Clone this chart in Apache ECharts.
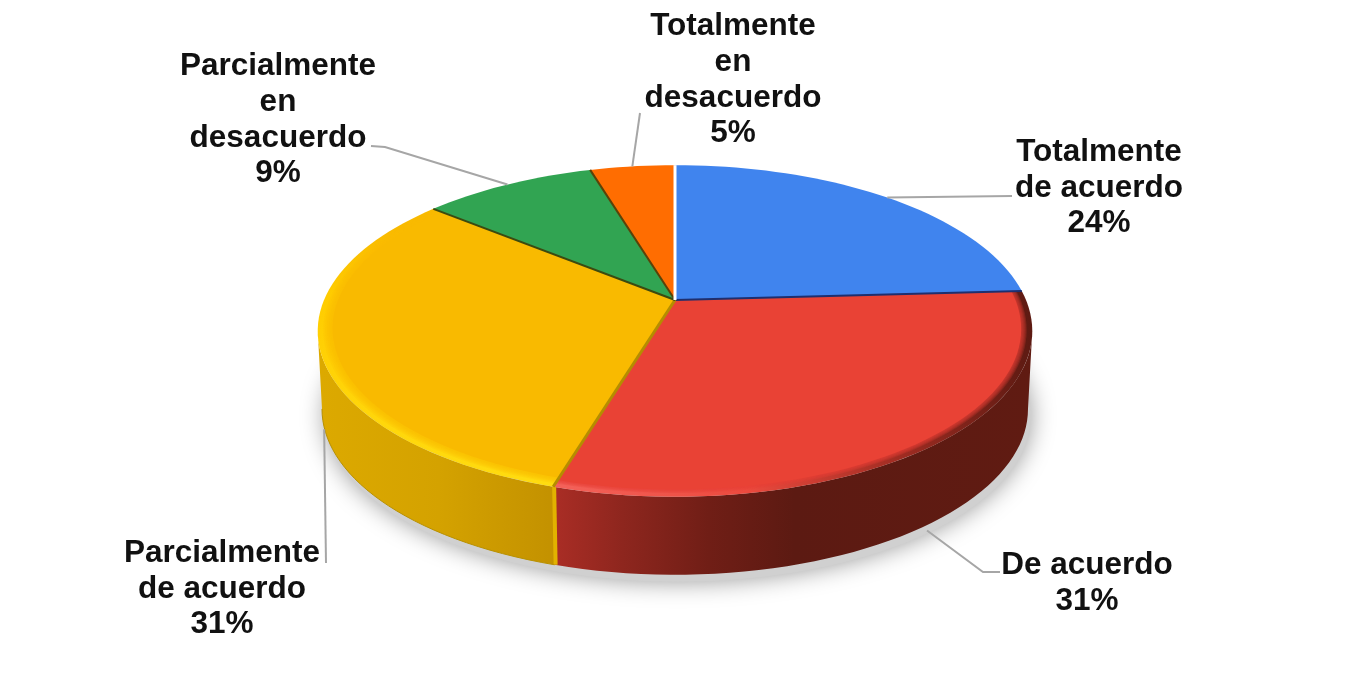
<!DOCTYPE html>
<html>
<head>
    <meta charset="UTF-8"/>
    <title>Grado de acuerdo</title>
    <script type="text/javascript" src="https://cdn.jsdelivr.net/npm/echarts@6/dist/echarts.min.js"></script>
    <style>
        html, body {margin: 0; padding: 0; background: #fff;}
        #main {width: 1351px; height: 676px; filter: blur(0.5px);}
    </style>
</head>
<body>
<div id="main"></div>
<script type="text/javascript">
    // datos (la etiqueta muestra el valor redondeado)
    var categories = [
        'Totalmente\nde acuerdo',
        'De acuerdo',
        'Parcialmente\nde acuerdo',
        'Parcialmente\nen\ndesacuerdo',
        'Totalmente\nen\ndesacuerdo'
    ]
    var values = [24.1, 30.5, 31.4, 9.4, 4.6]

    var faceColors = ['#4084ee', '#e94235', '#f9ba00', '#31a452', '#ff6d01']
    var edgeColors = ['#1f2f6e', '#b58d00', '#3b4a10', '#5a4208', '#ffffff']
    var edgeWidths = [2, 3, 2, 2, 3]
    var rimSteps = [0, 0.003, 0.005, 0, 0]
    var labelPos = [[1099, 188], [1087, 583], [222, 589], [278, 120], [733, 80]]
    var leaderEnds = [
        [[1012, 196]],
        [[983, 572], [1000, 572]],
        [[326, 563]],
        [[385, 147], [371, 146]],
        [[640, 113]]
    ]

    // perspectiva del plato: apice, radios y profundidad
    var CX = 675, CY = 300, RX = 351, RY = 160, K = 0.1867
    var DEPTH = 78, BOTTOM_X = 0.988, STEP = 2
    // angulos donde el borde del plato es tangente en vertical
    var TANGENT_R = Math.acos(-K) * 180 / Math.PI
    var TANGENT_L = 360 - TANGENT_R

    var total = values.reduce(function (a, b) { return a + b }, 0)
    var angles = [0]
    values.forEach(function (v, i) {
        angles.push(angles[i] + v / total * 360)
    })

    function project(deg, r) {
        var t = deg * Math.PI / 180
        var s = 1 / (1 + K * r * Math.cos(t))
        return [CX + RX * r * Math.sin(t) * s, CY - RY * r * Math.cos(t) * s]
    }

    function projectBottom(deg) {
        var p = project(deg, 1)
        return [CX + (p[0] - CX) * BOTTOM_X, p[1] + DEPTH]
    }

    function arc(a0, a1, fn) {
        var pts = []
        var n = Math.max(2, Math.ceil((a1 - a0) / STEP))
        for (var i = 0; i <= n; i++) {
            pts.push(fn(a0 + (a1 - a0) * i / n))
        }
        return pts
    }

    function grad(x0, y0, x1, y1, stops) {
        return new echarts.graphic.LinearGradient(x0, y0, x1, y1, stops.map(function (s) {
            return {offset: s[0], color: s[1]}
        }), true)
    }

    var wallFill = [
        null,
        grad(556, 0, 1033, 0, [[0, '#a92d25'], [0.14, '#8e261e'], [0.32, '#701e16'], [0.5, '#5c1a12'], [1, '#601b12']]),
        grad(322, 0, 556, 0, [[0, '#dca900'], [0.5, '#d4a200'], [1, '#c39100']]),
        null,
        null
    ]
    var rimFill = [
        null,
        grad(556, 0, 1033, 0, [[0, '#f4625a'], [0.4, '#ec4a3e'], [0.72, '#a02c22'], [1, '#5c1a12']]),
        grad(0, 230, 0, 490, [[0, '#f9ba00'], [0.25, '#ffcc00'], [1, '#ffdc10']]),
        null,
        null
    ]

    function renderShadow() {
        var ring = arc(0, 360, function (a) {
            var p = projectBottom(a)
            return [p[0] + 3, p[1] + 7]
        })
        return {
            type: 'polygon',
            shape: {points: ring},
            style: {
                fill: '#d0d0d0',
                shadowBlur: 24,
                shadowColor: 'rgba(0,0,0,0.4)'
            }
        }
    }

    function renderWall(params) {
        var i = params.dataIndex
        if (!wallFill[i]) {
            return null
        }
        var a0 = Math.max(angles[i], TANGENT_R), a1 = Math.min(angles[i + 1], TANGENT_L)
        var top = arc(a0, a1, function (a) { return project(a, 1) })
        var bottom = arc(a0, a1, projectBottom).reverse()
        var children = [{
            type: 'polygon',
            shape: {points: top.concat(bottom)},
            style: {fill: wallFill[i]}
        }]
        if (i === 2) {
            // el corte del sector amarillo queda a la vista
            var a = project(angles[i], 1), b = projectBottom(angles[i])
            children.push({
                type: 'line',
                shape: {x1: a[0] + 1, y1: a[1], x2: b[0] + 1, y2: b[1]},
                style: {stroke: '#e2b200', lineWidth: 4}
            })
            children.push({
                type: 'polyline',
                shape: {points: arc(a0, a1, projectBottom)},
                style: {fill: 'none', stroke: '#b89000', lineWidth: 1}
            })
        }
        return {type: 'group', children: children}
    }

    function sector(i, r) {
        var pts = arc(angles[i], angles[i + 1], function (a) { return project(a, r) })
        pts.unshift([CX, CY])
        return pts
    }

    function renderFace(params) {
        var i = params.dataIndex
        var children = []
        if (rimFill[i]) {
            children.push({type: 'polygon', shape: {points: sector(i, 1)}, style: {fill: rimFill[i]}})
            for (var k = 0; k < 6; k++) {
                children.push({
                    type: 'polygon',
                    shape: {points: sector(i, 0.985 - k * rimSteps[i])},
                    style: {fill: faceColors[i], opacity: k === 5 ? 1 : 0.22}
                })
            }
        } else {
            children.push({type: 'polygon', shape: {points: sector(i, 1)}, style: {fill: faceColors[i]}})
        }
        return {type: 'group', children: children}
    }

    function renderEdge(params) {
        var i = params.dataIndex
        var end = project(angles[i + 1], 1)
        return {
            type: 'line',
            shape: {x1: CX, y1: CY, x2: end[0], y2: end[1]},
            style: {stroke: edgeColors[i], lineWidth: edgeWidths[i]}
        }
    }

    function renderLabel(params) {
        var i = params.dataIndex
        var mid = (angles[i] + angles[i + 1]) / 2
        var start = project(mid, 1)
        if (mid > 90 && mid < 270) {
            start = projectBottom(mid)
            // la guia nace un poco separada de la pared
            start[1] += 7 * Math.abs(Math.cos(mid * Math.PI / 180))
        }
        return {
            type: 'group',
            children: [{
                type: 'polyline',
                shape: {points: [start].concat(leaderEnds[i])},
                style: {fill: 'none', stroke: '#a6a6a6', lineWidth: 2}
            }, {
                type: 'text',
                x: labelPos[i][0],
                y: labelPos[i][1],
                style: {
                    text: categories[i] + '\n' + Math.round(values[i]) + '%',
                    fill: '#111111',
                    font: 'bold 31.5px "Liberation Sans", Arial, sans-serif',
                    lineHeight: 35.7,
                    align: 'center',
                    verticalAlign: 'middle'
                }
            }]
        }
    }

    var seriesData = values.map(function (v, i) {
        return {name: categories[i], value: [v]}
    })

    var myChart = echarts.init(document.getElementById('main'))
    var option = {
        animation: false,
        backgroundColor: '#ffffff',
        series: [
            {type: 'custom', coordinateSystem: 'none', z: 1, data: [[0]], renderItem: renderShadow},
            {type: 'custom', coordinateSystem: 'none', z: 2, data: seriesData, renderItem: renderWall},
            {type: 'custom', coordinateSystem: 'none', z: 3, data: seriesData, renderItem: renderFace},
            {type: 'custom', coordinateSystem: 'none', z: 4, data: seriesData, renderItem: renderEdge},
            {type: 'custom', coordinateSystem: 'none', z: 5, data: seriesData, renderItem: renderLabel}
        ]
    }
    myChart.setOption(option)
</script>
</body>
</html>
